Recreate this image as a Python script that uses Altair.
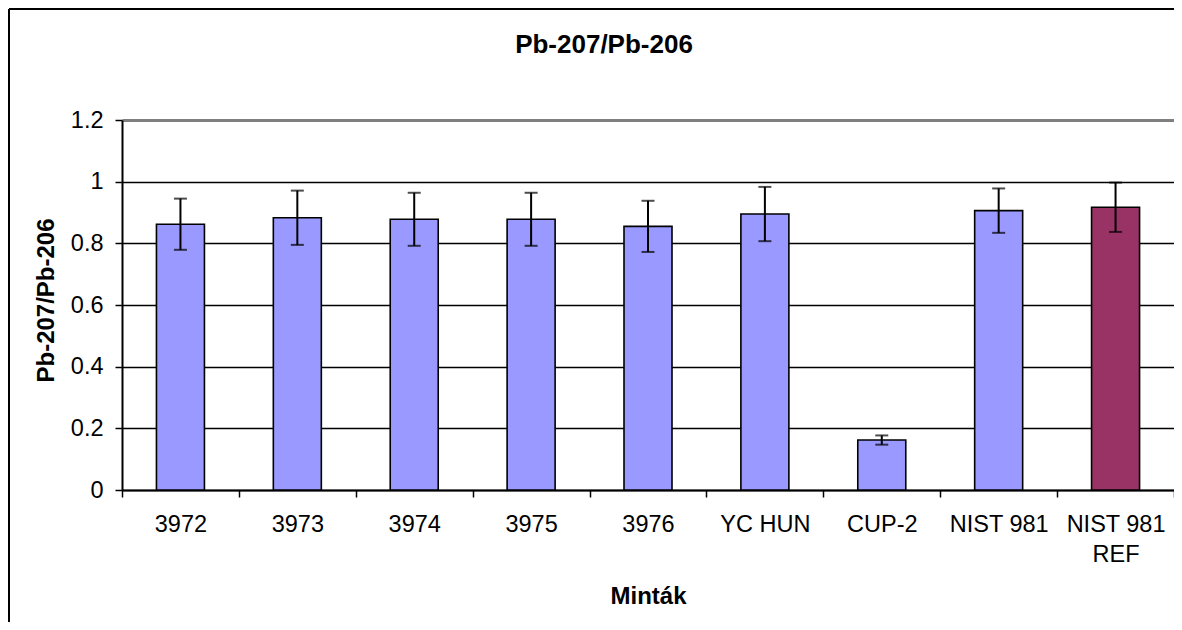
import altair as alt
import pandas as pd

categories = ["3972", "3973", "3974", "3975", "3976", "YC HUN", "CUP-2", "NIST 981", "NIST 981 REF"]
values = [0.862, 0.883, 0.878, 0.878, 0.855, 0.895, 0.162, 0.906, 0.917]
errors = [0.083, 0.088, 0.086, 0.086, 0.083, 0.088, 0.015, 0.072, 0.080]
kinds = ["minta"] * 8 + ["ref"]
y_ticks = [0, 0.2, 0.4, 0.6, 0.8, 1.0, 1.2]
chart_title = "Pb-207/Pb-206"

df = pd.DataFrame({"cat": categories, "val": values, "err": errors, "kind": kinds})

FONT = "Liberation Sans"
W, H = 1052, 370

base = alt.Chart(df).transform_calculate(
    lo="datum.val - datum.err", hi="datum.val + datum.err"
)

x_enc = alt.X(
    "cat:N",
    sort=categories,
    scale=alt.Scale(paddingInner=0, paddingOuter=0),
    axis=alt.Axis(
        title="Minták",
        labelAngle=0,
        labelFontSize=23.5,
        labelFont=FONT,
        labelColor="black",
        labelPadding=15,
        labelLineHeight=30,
        labelExpr="datum.label == 'NIST 981 REF' ? ['NIST 981', 'REF'] : datum.label",
        tickBand="extent",
        tickSize=7,
        tickColor="black",
        tickWidth=1.5,
        domainColor="black",
        domainWidth=2,
        titleFont=FONT,
        titleFontSize=24,
        titleFontWeight="bold",
        titleColor="black",
        titleBaseline="alphabetic",
        titleY=113,
        grid=False,
    ),
)

y_scale = alt.Scale(domain=[0, 1.2], nice=False)

bars = base.mark_bar(size=48, stroke="black", strokeWidth=1.6).encode(
    x=x_enc,
    y=alt.Y(
        "val:Q",
        scale=y_scale,
        axis=alt.Axis(
            title="Pb-207/Pb-206",
            values=y_ticks,
            labelExpr="toString(round(datum.value*10)/10)",
            labelFontSize=23.5,
            labelFont=FONT,
            labelColor="black",
            labelPadding=12,
            tickSize=7,
            tickColor="black",
            tickWidth=1.5,
            domainColor="black",
            domainWidth=2,
            grid=True,
            gridColor={"condition": {"test": "datum.value >= 1.19", "value": "#7f7f7f"}, "value": "black"},
            gridWidth={"condition": {"test": "datum.value >= 1.19", "value": 3}, "value": 1.6},
            titleFont=FONT,
            titleFontSize=24,
            titleFontWeight="bold",
            titleColor="black",
            titleBaseline="alphabetic",
            titleX=-69,
            titleY=180,
        ),
    ),
    color=alt.Color(
        "kind:N",
        scale=alt.Scale(domain=["minta", "ref"], range=["#9999FF", "#993366"]),
        legend=None,
    ),
)

rules = base.mark_rule(color="black", strokeWidth=2).encode(
    x=alt.X("cat:N", sort=categories),
    y=alt.Y("lo:Q", scale=y_scale),
    y2="hi:Q",
)

caps_lo = base.mark_tick(color="black", size=13, thickness=2, orient="horizontal").encode(
    x=alt.X("cat:N", sort=categories),
    y=alt.Y("lo:Q", scale=y_scale),
)
caps_hi = base.mark_tick(color="black", size=13, thickness=2, orient="horizontal").encode(
    x=alt.X("cat:N", sort=categories),
    y=alt.Y("hi:Q", scale=y_scale),
)

# outer frame: top and left edges only (right/bottom lie beyond the visible page)
frame_top = alt.Chart(alt.Data(values=[{"a": 1}])).mark_rule(
    color="black", strokeWidth=2
).encode(
    x=alt.value(-113), x2=alt.value(W + 4), y=alt.value(-111)
)
frame_left = alt.Chart(alt.Data(values=[{"a": 1}])).mark_rule(
    color="black", strokeWidth=2
).encode(
    x=alt.value(-113), y=alt.value(-111), y2=alt.value(H + 140)
)

title_text = alt.Chart(alt.Data(values=[{"t": chart_title}])).mark_text(
    font=FONT, fontSize=26, fontWeight="bold", color="black",
    baseline="alphabetic", align="center"
).encode(
    x=alt.value(482), y=alt.value(-67), text="t:N"
)

chart = alt.layer(frame_top, frame_left, bars, rules, caps_lo, caps_hi, title_text).properties(
    width=W,
    height=H,
    padding={"left": 114, "top": 112, "right": 0, "bottom": 132},
    autosize=alt.AutoSizeParams(type="none"),
).configure_view(
    fill="#C0C0C0", stroke=None
).configure(background="white")

chart.save("out.html", embed_options={"renderer": "svg", "actions": False})
